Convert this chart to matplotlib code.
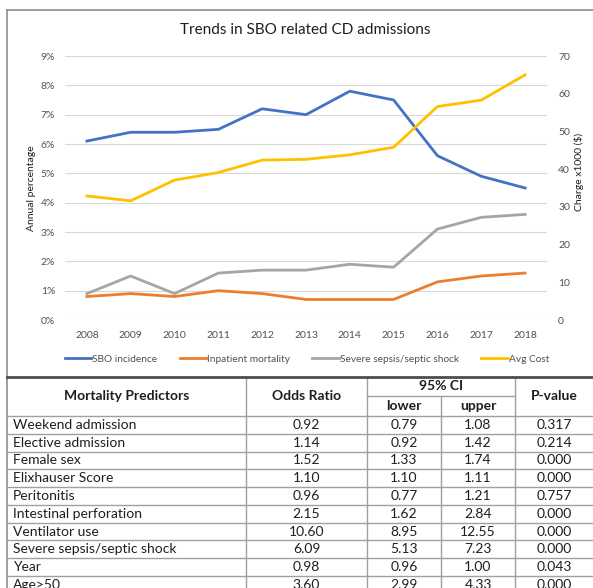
import matplotlib.pyplot as plt
import numpy as np
from matplotlib.ticker import PercentFormatter

plt.rcParams['font.family'] = ['Lato', 'DejaVu Sans']

# Chart data
years = [2008, 2009, 2010, 2011, 2012, 2013, 2014, 2015, 2016, 2017, 2018]
sbo_incidence = [6.1, 6.4, 6.4, 6.5, 7.2, 7.0, 7.8, 7.5, 5.6, 4.9, 4.5]          # %
inpatient_mortality = [0.8, 0.9, 0.8, 1.0, 0.9, 0.7, 0.7, 0.7, 1.3, 1.5, 1.6]    # %
severe_sepsis = [0.9, 1.5, 0.9, 1.6, 1.7, 1.7, 1.9, 1.8, 3.1, 3.5, 3.6]          # %
avg_cost = [32.9, 31.6, 37.1, 39.1, 42.4, 42.6, 43.8, 45.8, 56.6, 58.3, 65.0]    # x1000 $

# Table data
predictors = ['Weekend admission', 'Elective admission', 'Female sex', 'Elixhauser Score',
              'Peritonitis', 'Intestinal perforation', 'Ventilator use',
              'Severe sepsis/septic shock', 'Year', 'Age>50']
odds_ratio = ['0.92', '1.14', '1.52', '1.10', '0.96', '2.15', '10.60', '6.09', '0.98', '3.60']
ci_lower = ['0.79', '0.92', '1.33', '1.10', '0.77', '1.62', '8.95', '5.13', '0.96', '2.99']
ci_upper = ['1.08', '1.42', '1.74', '1.11', '1.21', '2.84', '12.55', '7.23', '1.00', '4.33']
p_values = ['0.317', '0.214', '0.000', '0.000', '0.757', '0.000', '0.000', '0.000', '0.043', '0.000']

BLUE = '#4472C4'
ORANGE = '#ED7D31'
GREY = '#A5A5A5'
GOLD = '#FFC000'
TICK_COLOR = '#505050'
TEXT_COLOR = '#1E1E1E'

W, H = 593, 588
fig = plt.figure(figsize=(W / 100, H / 100), dpi=100)
fig.patch.set_facecolor('white')

# Overlay in pixel coordinates for the frame and the table
ov = fig.add_axes([0, 0, 1, 1], zorder=0)
ov.set_xlim(0, W)
ov.set_ylim(H, 0)
ov.axis('off')

# ---- chart ----
ax = fig.add_axes([65 / W, 1 - 320 / H, (547 - 65) / W, (320 - 56) / H], zorder=2)
ax.patch.set_alpha(0)
x = np.arange(len(years))
l1, = ax.plot(x, sbo_incidence, color=BLUE, lw=2.0, label='SBO incidence')
l2, = ax.plot(x, inpatient_mortality, color=ORANGE, lw=2.0, label='Inpatient mortality')
l3, = ax.plot(x, severe_sepsis, color=GREY, lw=2.0, label='Severe sepsis/septic shock')
ax.set_xlim(-0.5, len(years) - 0.5)
ax.set_ylim(0, 9)
ax.set_yticks(range(0, 10))
ax.yaxis.set_major_formatter(PercentFormatter(decimals=0))
ax.set_xticks(x)
ax.set_xticklabels(years)
ax.grid(axis='y', color='#D9D9D9', lw=0.8)
ax.set_axisbelow(True)
ax.tick_params(length=0, labelsize=7.5, colors=TICK_COLOR)
ax.tick_params(axis='y', pad=7)
ax.tick_params(axis='x', pad=8)
for s in ax.spines.values():
    s.set_visible(False)

ax2 = ax.twinx()
l4, = ax2.plot(x, avg_cost, color=GOLD, lw=2.0, label='Avg Cost')
ax2.set_ylim(0, 70)
ax2.set_yticks(range(0, 80, 10))
ax2.tick_params(length=0, labelsize=7.5, colors=TICK_COLOR, pad=8)
for s in ax2.spines.values():
    s.set_visible(False)

fig.text(305 / W, 1 - 30 / H, 'Trends in SBO related CD admissions',
         ha='center', va='center', fontsize=11, color=TEXT_COLOR)
fig.text(32 / W, 1 - 188 / H, 'Annual percentage', rotation=90,
         ha='center', va='center', fontsize=7.5, color=TEXT_COLOR)
fig.text(579 / W, 1 - 172 / H, 'Charge x1000 ($)', rotation=90,
         ha='center', va='center', fontsize=7.5, color=TEXT_COLOR)

fig.legend(handles=[l1, l2, l3, l4], loc='center',
           bbox_to_anchor=(307 / W, 1 - 359 / H), ncol=4, frameon=False,
           fontsize=7.3, handlelength=2.6, handletextpad=0.1, columnspacing=2.2,
           labelcolor=TICK_COLOR)

# ---- chart frame ----
frame_col = '#8C8C8C'
ov.plot([7, 7], [10, H], color=frame_col, lw=1.2, clip_on=False)
ov.plot([7, W], [10, 10], color=frame_col, lw=1.2, clip_on=False)

# ---- table ----
line_col = '#A0A0A0'
top = 377
ci_mid = 396
head_bot = 416
row_h = 17.78
col_edges = [7, 246, 367, 441, 515, W]

n_rows = len(predictors)
for k in range(n_rows + 1):
    y = head_bot + k * row_h
    ov.plot([7, W], [y, y], color=line_col, lw=1.0)
ov.plot([col_edges[2], col_edges[4]], [ci_mid, ci_mid], color=line_col, lw=1.0)
for cx in col_edges[1:5]:
    y0 = ci_mid if cx == col_edges[3] else top
    ov.plot([cx, cx], [y0, H], color=line_col, lw=1.0)
ov.plot([7, W], [376.5, 376.5], color='#4D4D4D', lw=2.0)

def center(i):
    return (col_edges[i] + col_edges[i + 1]) / 2

hdr = dict(fontsize=10, fontweight='bold', color=TEXT_COLOR, va='center', ha='center')
ov.text(center(0), (top + head_bot) / 2, 'Mortality Predictors', **hdr)
ov.text(center(1), (top + head_bot) / 2, 'Odds Ratio', **hdr)
ov.text((col_edges[2] + col_edges[4]) / 2, (top + ci_mid) / 2, '95% CI', **hdr)
ov.text(center(2), (ci_mid + head_bot) / 2, 'lower', **hdr)
ov.text(center(3), (ci_mid + head_bot) / 2, 'upper', **hdr)
ov.text(center(4), (top + head_bot) / 2, 'P-value', **hdr)

cell = dict(fontsize=10, color=TEXT_COLOR, va='center')
for i in range(n_rows):
    y = head_bot + (i + 0.5) * row_h
    ov.text(13, y, predictors[i], ha='left', **cell)
    ov.text(center(1), y, odds_ratio[i], ha='center', **cell)
    ov.text(center(2), y, ci_lower[i], ha='center', **cell)
    ov.text(center(3), y, ci_upper[i], ha='center', **cell)
    ov.text(center(4), y, p_values[i], ha='center', **cell)

fig.savefig('out.png', dpi=100, facecolor='white')
